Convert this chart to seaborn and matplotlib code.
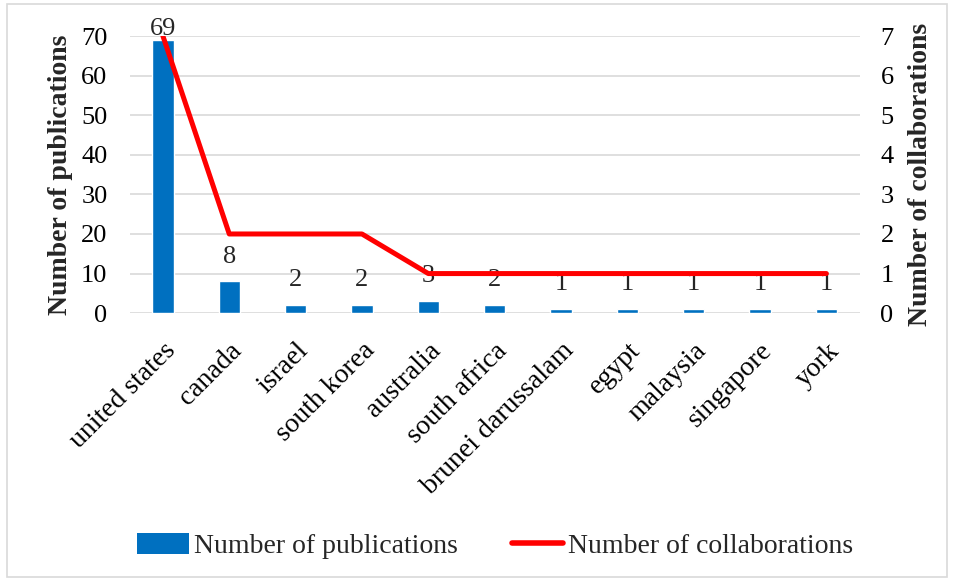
import numpy as np
import pandas as pd
import matplotlib
matplotlib.use("Agg")
import matplotlib.pyplot as plt
import seaborn as sns
from matplotlib.patches import Rectangle, Patch
from matplotlib.lines import Line2D

countries = ["united states", "canada", "israel", "south korea", "australia",
             "south africa", "brunei darussalam", "egypt", "malaysia",
             "singapore", "york"]
publications = [69, 8, 2, 2, 3, 2, 1, 1, 1, 1, 1]
collaborations = [7, 2, 2, 2, 1, 1, 1, 1, 1, 1, 1]

BLUE = "#0070C0"
RED = "#FF0000"
GRID = "#D9D9D9"

df = pd.DataFrame({"country": countries,
                   "publications": publications,
                   "collaborations": collaborations})

sns.set_theme(style="white")
plt.rcParams["font.family"] = ["Liberation Serif", "DejaVu Serif"]

fig = plt.figure(figsize=(9.54, 5.81), dpi=100)
ax = fig.add_axes([0.136, 0.461, 0.765, 0.477])

sns.barplot(data=df, x="country", y="publications", color=BLUE,
            width=0.32, saturation=1, ax=ax, zorder=2)
ax.set_ylim(0, 70)
ax.set_yticks(range(0, 71, 10))
ax.yaxis.grid(True, color=GRID, linewidth=1.2, zorder=0)
ax.set_axisbelow(True)
for s in ax.spines.values():
    s.set_visible(False)
ax.tick_params(axis="both", length=0, labelsize=19, colors="black")
ax.tick_params(axis="y", pad=16)
ax.tick_params(axis="x", pad=18, labelsize=20)
ax.set_xlabel("")
ax.set_ylabel("Number of publications", fontsize=20, fontweight="bold", labelpad=6)
plt.setp(ax.get_xticklabels(), rotation=45, ha="right", rotation_mode="anchor")
ax.set_xlim(-0.5, len(countries) - 0.5)

# data labels above bars
for i, v in enumerate(publications):
    pad = 0 if v > 60 else 10
    ax.annotate(str(v), xy=(i, v), xytext=(0, pad), textcoords="offset points",
                ha="center", va="bottom", fontsize=19, zorder=5)

ax2 = ax.twinx()
sns.lineplot(data=df, x="country", y="collaborations", sort=False,
             color=RED, linewidth=3.6, ax=ax2, zorder=3)
ax2.set_ylim(0, 7)
ax2.set_yticks(range(0, 8))
for s in ax2.spines.values():
    s.set_visible(False)
ax2.tick_params(axis="y", length=0, labelsize=19, colors="black", pad=15)
ax2.set_ylabel("Number of collaborations", fontsize=20, fontweight="bold", labelpad=10)
ax2.grid(False)
ax2.set_xlim(-0.5, len(countries) - 0.5)

handles = [Patch(facecolor=BLUE, edgecolor="none"),
           Line2D([0], [0], color=RED, linewidth=4)]
fig.legend(handles, ["Number of publications", "Number of collaborations"],
           loc="center", bbox_to_anchor=(0.519, 0.06), ncol=2, frameon=False,
           fontsize=20, handlelength=1.85, handleheight=0.8,
           handletextpad=0.18, columnspacing=1.95)

fig.add_artist(Rectangle((0.007, 0.007), 0.986, 0.986, transform=fig.transFigure,
                         fill=False, edgecolor=GRID, linewidth=1.2))

fig.savefig("out.png", dpi=100)
